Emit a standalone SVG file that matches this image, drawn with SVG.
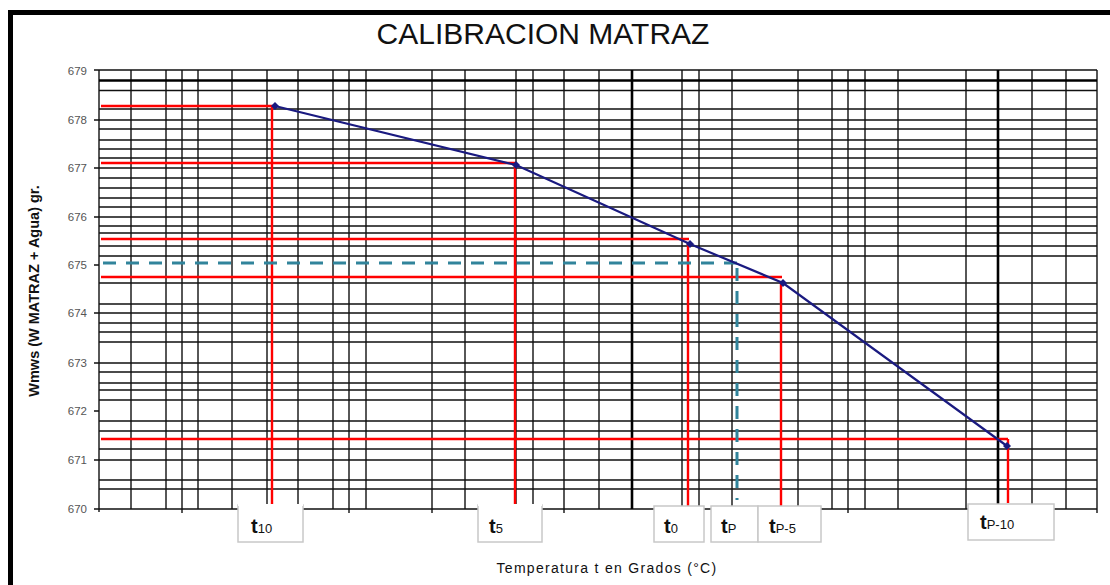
<svg xmlns="http://www.w3.org/2000/svg" width="1110" height="585" viewBox="0 0 1110 585">
<style>
.grid{stroke:#111;stroke-width:1.4;fill:none}
.thick{stroke:#000;stroke-width:2.6;fill:none}
.red{stroke:#ff0000;stroke-width:2.4;fill:none}
.teal{stroke:#31849b;stroke-width:3;fill:none;stroke-dasharray:13 10}
.curve{stroke:#1a1a80;stroke-width:2.2;fill:none}
.ylab{font-family:"Liberation Sans",Arial,sans-serif;font-size:11.5px;fill:#555;text-anchor:end}
.box{fill:#fff;stroke:#c8c8c8;stroke-width:1.5}
.t{font-family:"Liberation Sans",Arial,sans-serif;font-size:20px;font-weight:bold;fill:#111}
.sub{font-size:13px;font-weight:normal}
</style>
<defs>
<marker id="dia" markerWidth="8" markerHeight="8" refX="4" refY="4" markerUnits="userSpaceOnUse">
<path d="M4 0 L8 4 L4 8 L0 4 Z" fill="#1a1a80"/>
</marker>
</defs>
<rect width="1110" height="585" fill="#fff"/>
<!-- frame -->
<rect x="8" y="10" width="5" height="575" fill="#000"/>
<rect x="8" y="10" width="1102" height="5" fill="#000"/>
<text x="543" y="44" font-family="'Liberation Sans',Arial,sans-serif" font-size="30" text-anchor="middle" fill="#111">CALIBRACION MATRAZ</text>
<g id="grid">
<path class="grid" d="M99 70H1097 M99 90.5H1097 M99 109H1097 M99 120H1097 M99 129H1097 M99 140H1097 M99 149H1097 M99 158H1097 M99 168H1097 M99 178H1097 M99 188H1097 M99 198H1097 M99 207H1097 M99 217H1097 M99 226H1097 M99 233H1097 M99 246H1097 M99 256H1097 M99 283H1097 M99 304H1097 M99 313H1097 M99 323H1097 M99 332H1097 M99 342H1097 M99 363H1097 M99 372H1097 M99 383H1097 M99 390H1097 M99 400H1097 M99 421H1097 M99 431H1097 M99 449H1097 M99 460H1097 M99 480H1097 M99 489H1097 M99 509H1097"/>
<path class="grid" d="M99 70V512 M131 70V509 M166 70V509 M182 70V513 M198 70V509 M232 70V509 M267 70V509 M298 70V509 M333 70V509 M349 70V513 M366 70V509 M432 70V513 M465 70V509 M516 70V509 M533 70V509 M564 70V513 M599 70V509 M682 70V509 M699 70V509 M732 70V509 M798 70V509 M832 70V509 M848 70V513 M865 70V509 M898 70V509 M966 70V509 M1032 70V509 M1066 70V509 M1097 70V513"/>
<path class="thick" d="M99 80.5H1097 M632 70V509 M998 70V509"/>
<path class="grid" d="M94 70H99 M94 120H99 M94 168H99 M94 217H99 M94 265H99 M94 313H99 M94 363H99 M94 411H99 M94 460H99 M94 509H99"/>
</g>
<g id="yaxis-labels">
<text class="ylab" x="87" y="75">679</text>
<text class="ylab" x="87" y="124">678</text>
<text class="ylab" x="87" y="172">677</text>
<text class="ylab" x="87" y="221">676</text>
<text class="ylab" x="87" y="269">675</text>
<text class="ylab" x="87" y="317">674</text>
<text class="ylab" x="87" y="367">673</text>
<text class="ylab" x="87" y="415">672</text>
<text class="ylab" x="87" y="464">671</text>
<text class="ylab" x="87" y="513">670</text>
</g>
<text transform="translate(39,291) rotate(-90)" font-family="'Liberation Sans',Arial,sans-serif" font-size="14.5" font-weight="bold" text-anchor="middle" fill="#111">Wmws (W MATRAZ + Agua)  gr.</text>
<g id="connectors">
<path class="red" d="M101 106H275 M272 106V506"/>
<path class="red" d="M101 163H516 M515 163V506"/>
<path class="red" d="M101 239H689 M688 243V506"/>
<path class="red" d="M101 277H782 M781 281V507"/>
<path class="red" d="M101 439H1008 M1008 439V503"/>
<path class="teal" d="M103 263H737 M737 268V500"/>
<polyline class="curve" points="275,106 516,165 690,244 783,283 1007,446" marker-start="url(#dia)" marker-mid="url(#dia)" marker-end="url(#dia)"/>
</g>
<g id="label-t10">
<rect class="box" x="238" y="505" width="65" height="37"/>
<path d="M238 505H303" stroke="#fff" stroke-width="2"/>
<text class="t" x="251" y="533">t<tspan class="sub">10</tspan></text>
</g>
<g id="label-t5">
<rect class="box" x="478" y="505" width="64" height="37"/>
<path d="M478 505H542" stroke="#fff" stroke-width="2"/>
<text class="t" x="489" y="533">t<tspan class="sub">5</tspan></text>
</g>
<g id="label-t0">
<rect class="box" x="654" y="506" width="50" height="36"/>
<text class="t" x="664" y="533">t<tspan class="sub">0</tspan></text>
</g>
<g id="label-tP">
<rect class="box" x="711" y="506" width="47" height="36"/>
<text class="t" x="721" y="533">t<tspan class="sub">P</tspan></text>
</g>
<g id="label-tP-5">
<rect class="box" x="758" y="506" width="63" height="36"/>
<text class="t" x="769" y="533">t<tspan class="sub">P-5</tspan></text>
</g>
<g id="label-tP-10">
<rect class="box" x="968" y="504" width="86" height="36"/>
<text class="t" x="980" y="529">t<tspan class="sub">P-10</tspan></text>
</g>
<text x="607" y="573" font-family="'Liberation Sans',Arial,sans-serif" font-size="14" letter-spacing="1.3" text-anchor="middle" fill="#111">Temperatura t en Grados  (°C)</text>
</svg>
